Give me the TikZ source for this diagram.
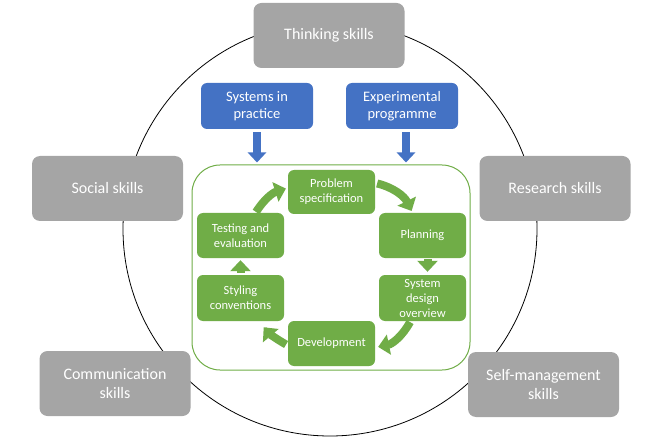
\documentclass[tikz,border=0pt]{standalone}
\usepackage{fontspec}
\setmainfont{Carlito}
\usetikzlibrary{arrows.meta}
\definecolor{skillgray}{HTML}{A5A5A5}
\definecolor{unitblue}{HTML}{4472C4}
\definecolor{cyclegreen}{HTML}{70AD47}

\begin{document}
\begin{tikzpicture}[x=1pt, y=-1pt,
    skill/.style={fill=skillgray, rounded corners=8pt, minimum width=151pt, minimum height=65pt, text=white, align=center, font=\fontsize{16}{19.5}\selectfont},
    unit/.style={fill=unitblue, rounded corners=6pt, minimum width=112pt, minimum height=46pt, text=white, align=center, font=\fontsize{14.5}{17.5}\selectfont},
    stage/.style={fill=cyclegreen, rounded corners=6pt, minimum width=87pt, minimum height=45pt, inner sep=1pt, text=white, align=center, font=\fontsize{12.5}{15}\selectfont},
    downarrow/.style={draw=unitblue, line width=8pt, -{Triangle[width=18pt,length=10pt]}},
    cyclearrow/.style={draw=cyclegreen, line width=8pt, -{Triangle[width=20pt,length=11pt]}}]
        \useasboundingbox (0,0) rectangle (663,438);

        \draw[line width=0.8] (330,229) circle (207pt); %kreis

        % skills
        \node (think) [skill] at (329,35.5) {Thinking skills};
        \node (social) [skill] at (107.5,188.5) {Social skills};
        \node (research) [skill] at (555,188.5) {Research skills};
        \node (comm) [skill] at (115,383.5) {Communication\\skills};
        \node (selfm) [skill] at (543.5,384.5) {Self-management\\skills};

        % units
        \node (sys) [unit] at (257,106) {Systems in\\practice};
        \node (exp) [unit] at (402,106) {Experimental\\programme};

        % cycle frame
        \node (frame) [draw=cyclegreen, line width=1, fill=white, rounded corners=28pt, minimum width=278pt, minimum height=205pt] at (331,267.5) {};

        \draw[downarrow, shorten <=3pt, shorten >=2pt] (sys.south) -- (sys.south |- frame.north);
        \draw[downarrow, shorten <=3pt, shorten >=2pt] ([xshift=4pt]exp.south) -- ([xshift=4pt]exp.south |- frame.north);

        % stages
        \node (prob) [stage, minimum height=44pt] at (331.5,192) {Problem\\specification};
        \node (plan) [stage] at (422.5,235.5) {Planning};
        \node (sysd) [stage, minimum height=46pt] at (422.5,298) {System\\design\\overview};
        \node (dev) [stage] at (331.5,343.5) {Development};
        \node (sty) [stage, minimum height=46pt] at (240.5,298) {Styling\\conventions};
        \node (test) [stage] at (240.5,235.5) {Testing and\\evaluation};

        % cycle
        \draw[cyclearrow, shorten <=2pt, shorten >=2pt] ([yshift=9pt]prob.east) to[bend left=25] ([xshift=-10pt]plan.north);
        \draw[cyclearrow, shorten <=1pt, shorten >=3pt] ([xshift=5pt]plan.south) -- ([xshift=5pt]sysd.north);
        \draw[cyclearrow, shorten <=1pt, shorten >=3pt] ([xshift=-12pt]sysd.south) to[bend left=25] ([yshift=-4pt]dev.east);
        \draw[cyclearrow, shorten <=2pt, shorten >=8pt] ([yshift=-2pt]dev.west) to[bend left=10] ([xshift=18pt]sty.south);
        \draw[cyclearrow, shorten <=2pt, shorten >=2pt] (sty.north) -- (test.south);
        \draw[cyclearrow, shorten <=1pt, shorten >=2pt] ([xshift=15pt]test.north) to[bend left=20] ([yshift=4pt]prob.west);
    \end{tikzpicture}
\end{document}
